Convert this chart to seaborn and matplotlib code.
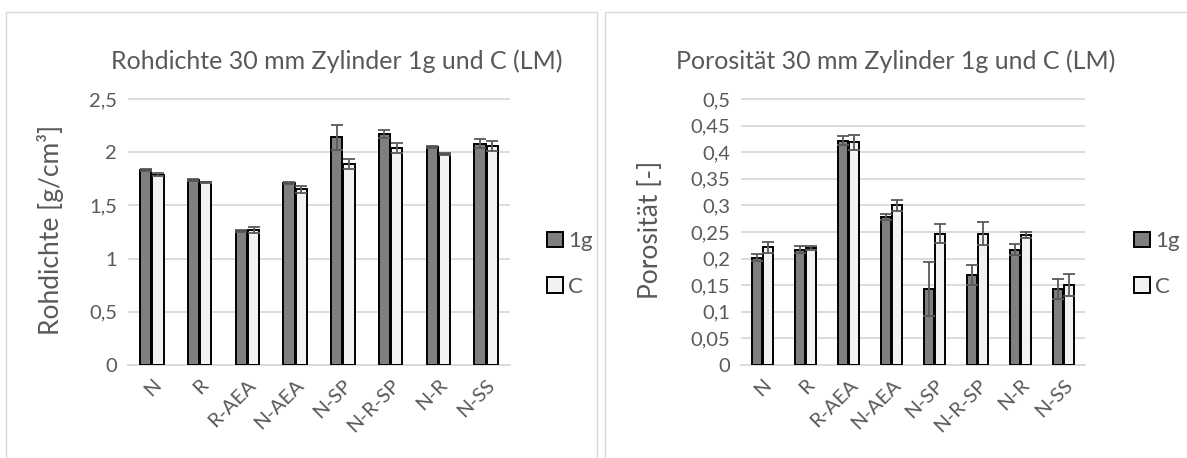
import matplotlib
matplotlib.use("Agg")
import matplotlib.pyplot as plt
from matplotlib.patches import Rectangle, Patch
import numpy as np
import pandas as pd
import seaborn as sns

# ---- data -------------------------------------------------------------
categories = ["N", "R", "R-AEA", "N-AEA", "N-SP", "N-R-SP", "N-R", "N-SS"]
series = ["1g", "C"]

rohdichte_1g = [1.83, 1.74, 1.26, 1.71, 2.14, 2.17, 2.05, 2.08]
rohdichte_1g_err = [0.01, 0.01, 0.01, 0.01, 0.12, 0.04, 0.01, 0.04]
rohdichte_c = [1.79, 1.72, 1.27, 1.65, 1.89, 2.04, 1.98, 2.06]
rohdichte_c_err = [0.015, 0.005, 0.03, 0.03, 0.045, 0.05, 0.01, 0.045]

porositaet_1g = [0.202, 0.217, 0.422, 0.278, 0.143, 0.169, 0.217, 0.143]
porositaet_1g_err = [0.007, 0.006, 0.008, 0.006, 0.05, 0.019, 0.01, 0.018]
porositaet_c = [0.221, 0.220, 0.419, 0.300, 0.247, 0.247, 0.244, 0.150]
porositaet_c_err = [0.01, 0.004, 0.014, 0.011, 0.018, 0.021, 0.006, 0.021]

rho_ticks = [0, 0.5, 1, 1.5, 2, 2.5]
por_ticks = [0, 0.05, 0.1, 0.15, 0.2, 0.25, 0.3, 0.35, 0.4, 0.45, 0.5]

# ---- style ------------------------------------------------------------
sns.set_theme(style="white")
plt.rcParams["font.family"] = ["Lato", "DejaVu Sans"]

TEXT = "#595959"
GRID = "#d9d9d9"
palette = {"1g": "#7f7f7f", "C": "#f2f2f2"}

W, H = 1187, 458
fig = plt.figure(figsize=(W / 100, H / 100), dpi=100)
fig.patch.set_facecolor("white")


def frac(x0, y0, x1, y1):
    """pixel box (top-left origin) -> figure fraction rect"""
    return [x0 / W, 1 - y1 / H, (x1 - x0) / W, (y1 - y0) / H]


# chart frames
for fx0, fx1 in [(6, 597), (605, 1200)]:
    fig.add_artist(Rectangle((fx0 / W, -0.1), (fx1 - fx0) / W, 1.1 - 12 / H,
                             transform=fig.transFigure, fill=False,
                             edgecolor=GRID, linewidth=1.0))


def draw_panel(rect, v1, e1, v2, e2, ticks, ticklabels, ylabel, title,
               title_x, ylabel_x, legend_x):
    ax = fig.add_axes(rect)
    df = pd.DataFrame({
        "Kategorie": categories * 2,
        "Serie": [series[0]] * len(categories) + [series[1]] * len(categories),
        "Wert": list(v1) + list(v2),
    })
    sns.barplot(data=df, x="Kategorie", y="Wert", hue="Serie",
                order=categories, hue_order=series, palette=palette,
                errorbar=None, width=0.52, gap=0.1, edgecolor="black",
                linewidth=1.4, saturation=1, legend=False, ax=ax, zorder=3)

    # error bars at the centre of each drawn bar
    for container, err in zip(ax.containers, [e1, e2]):
        xs = [p.get_x() + p.get_width() / 2 for p in container.patches]
        hs = [p.get_height() for p in container.patches]
        ax.errorbar(xs, hs, yerr=err, fmt="none", ecolor="#595959",
                    elinewidth=1.3, capsize=4.2, capthick=1.3, zorder=4)

    top = ticks[-1]
    ax.set_ylim(0, top * 1.004)
    ax.set_xlim(-0.5, len(categories) - 0.5)
    ax.set_yticks(ticks)
    ax.set_yticklabels(ticklabels, color=TEXT, fontsize=14.5)
    ax.set_xticks(range(len(categories)))
    ax.set_xticklabels(categories, rotation=45, ha="right",
                       rotation_mode="anchor", color=TEXT, fontsize=14.5)
    ax.tick_params(axis="both", length=0, pad=8)
    ax.set_xlabel("")
    ax.set_ylabel("")
    ax.yaxis.grid(True, color=GRID, linewidth=1.3, zorder=0)
    ax.set_axisbelow(True)
    for s in ["top", "right", "left"]:
        ax.spines[s].set_visible(False)
    ax.spines["bottom"].set_color(GRID)
    ax.spines["bottom"].set_linewidth(1.3)
    ax.spines["bottom"].set_zorder(2)
    ax.set_facecolor("none")

    fig.text(title_x / W, 1 - 61 / H, title, ha="center", va="center",
             color=TEXT, fontsize=18)
    fig.text(ylabel_x / W, 1 - 230 / H, ylabel, ha="center", va="center",
             rotation=90, color=TEXT, fontsize=19)

    handles = [Patch(facecolor=palette[s], edgecolor="black", linewidth=1.4)
               for s in series]
    ax.legend(handles, series, loc="center left",
              bbox_to_anchor=(legend_x / W, 1 - 264 / H),
              bbox_transform=fig.transFigure, frameon=False,
              borderpad=0.0, borderaxespad=0.0,
              handlelength=0.7, handleheight=0.7, handletextpad=0.25,
              labelspacing=1.15, labelcolor=TEXT, fontsize=16)
    return ax


def fmt(values):
    return [("%g" % v).replace(".", ",") for v in values]


draw_panel(frac(128, 98, 510, 365), rohdichte_1g, rohdichte_1g_err,
           rohdichte_c, rohdichte_c_err, rho_ticks, fmt(rho_ticks),
           "Rohdichte [g/cm³]", "Rohdichte 30 mm Zylinder 1g und C (LM)",
           337, 51, 547)

draw_panel(frac(741, 98, 1085, 365), porositaet_1g, porositaet_1g_err,
           porositaet_c, porositaet_c_err, por_ticks, fmt(por_ticks),
           "Porosität [-]", "Porosität 30 mm Zylinder 1g und C (LM)",
           896, 650, 1134)

fig.savefig("out.png", dpi=100)
